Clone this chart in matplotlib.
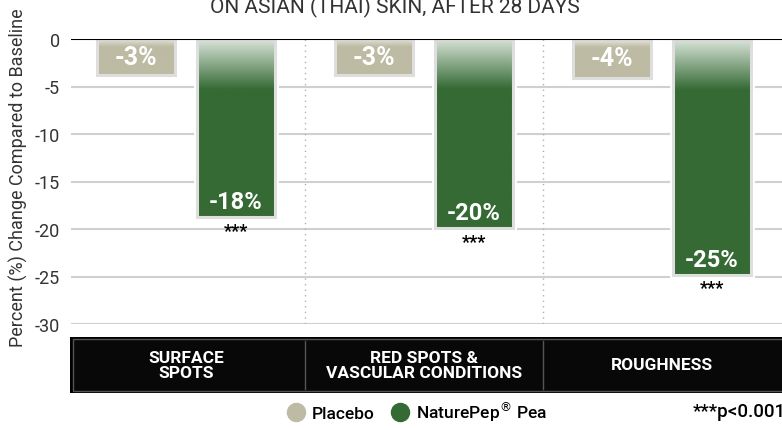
import matplotlib
matplotlib.use("Agg")
import matplotlib.pyplot as plt
import numpy as np
from matplotlib.lines import Line2D
from matplotlib.colors import to_rgb

# data
categories = ["SURFACE\nSPOTS", "RED SPOTS &\nVASCULAR CONDITIONS", "ROUGHNESS"]
placebo = [-3.8, -3.8, -4.1]
pea = [-18.7, -19.9, -24.8]
placebo_labels = ["-3%", "-3%", "-4%"]
pea_labels = ["-18%", "-20%", "-25%"]
y_ticks = [0, -5, -10, -15, -20, -25, -30]

plt.rcParams['font.family'] = ['Roboto', 'DejaVu Sans']

GREEN = "#356a34"
GREEN_TOP = "#d9e4d9"
KHAKI = "#bdbba3"
KHAKI_TOP = "#e9e7dd"


def gradient(top, bottom, depth, value, n=200):
    # vertical gradient from the zero line down to the bar end
    ys = np.linspace(0, value, n)
    t = np.clip(-ys / depth, 0, 1)[:, None]
    c0 = np.array(to_rgb(top))
    c1 = np.array(to_rgb(bottom))
    img = c0 * (1 - t) + c1 * t
    return img[:, None, :]


def draw_bars(ax, xs, vals, width, top, bottom, depth):
    # white gap around bars (cuts the grid lines)
    ax.bar(xs, vals, width, color='none', edgecolor='white', linewidth=5, zorder=2)
    bars = ax.bar(xs, vals, width, color=bottom, zorder=3)
    for b, v in zip(bars, vals):
        x0 = b.get_x()
        im = ax.imshow(gradient(top, bottom, depth, v), extent=[x0, x0 + b.get_width(), v, 0],
                       aspect='auto', origin='upper', zorder=3.1, interpolation='bilinear')
        im.set_clip_path(b)
    ax.bar(xs, vals, width, fill=False, edgecolor='#dedede', linewidth=2.2, zorder=4)
    return bars


fig = plt.figure(figsize=(7.82, 4.31), dpi=100)
ax = fig.add_axes([71 / 782, 1 - 325 / 431, 1 - 71 / 782, 285 / 431])

x = np.arange(len(categories))
off = 0.21
w = 0.33

# grid
for t in y_ticks[1:]:
    ax.axhline(t, color='#d0d0d0', lw=1.5, zorder=1)
for s in [0.5, 1.5]:
    ax.plot([s, s], [0, -30], color='#b0b0b0', lw=1, ls=(0, (1, 3)), zorder=1)

draw_bars(ax, x - off, placebo, w, KHAKI_TOP, KHAKI, 0.9)
draw_bars(ax, x + off, pea, w, GREEN_TOP, GREEN, 5.3)
ax.axhline(0, color='black', lw=1.5, zorder=5)

for i in range(len(categories)):
    ax.text(x[i] - off, placebo[i] / 2, placebo_labels[i], color='white', fontsize=18,
            fontweight='bold', ha='center', va='center', zorder=6)
    ax.annotate(pea_labels[i], (x[i] + off, pea[i]), xytext=(0, 11), textcoords='offset points',
                color='white', fontsize=17, fontweight='bold', ha='center', va='center', zorder=6)
    ax.annotate("***", (x[i] + off, pea[i]), xytext=(0, -10), textcoords='offset points',
                color='black', fontsize=13, fontweight='bold', ha='center', va='center', zorder=6)

ax.set_xlim(-0.483, 2.504)
ax.set_ylim(-30, 0)
ax.set_yticks(y_ticks)
ax.set_yticklabels([str(t) for t in y_ticks])
ax.tick_params(axis='y', length=0, pad=8, labelsize=13, labelcolor='#333333')
ax.set_xticks([])
for sp in ax.spines.values():
    sp.set_visible(False)

# dark category band
band = fig.add_axes([70 / 782, 1 - 394 / 431, 1 - 70 / 782, 56 / 431])
band.set_xlim(-0.487, 2.504)
band.set_ylim(0, 1)
band.axis('off')
band.add_patch(plt.Rectangle((0, 0), 1, 1, transform=band.transAxes, facecolor='black',
                             edgecolor='none'))
band.add_patch(plt.Rectangle((0.004, 0.04), 1.0, 0.92, transform=band.transAxes,
                             facecolor='#080808', edgecolor='#555555', lw=1))
for s in [0.5, 1.5]:
    band.plot([s, s], [0.08, 0.92], color='#555555', lw=1)
for i, c in enumerate(categories):
    band.text(x[i], 0.5, c, color='white', fontsize=12.5, fontweight='bold',
              ha='center', va='center', linespacing=0.95)

fig.text(395 / 782, 1 - 13 / 431, "ON ASIAN (THAI) SKIN, AFTER 28 DAYS", fontsize=15,
         color='#333333', ha='center', va='baseline')
fig.text(18 / 782, 1 - 178 / 431, "Percent (%) Change Compared to Baseline", rotation=90,
         fontsize=13, color='#333333', ha='center', va='center')

handles = [Line2D([], [], marker='o', ls='', markersize=13, color=KHAKI),
           Line2D([], [], marker='o', ls='', markersize=13, color=GREEN)]
fig.legend(handles, ["Placebo", "NaturePep$^{\u00ae}$ Pea"], loc='center',
           bbox_to_anchor=(417 / 782, 1 - 412 / 431), ncol=2, frameon=False,
           prop={'size': 12.5, 'weight': 'medium'}, handlelength=1, handletextpad=0.4,
           columnspacing=1.0)
fig.text(693 / 782, 1 - 412 / 431, "***p<0.001", fontsize=13.5, fontweight='medium',
         color='black', ha='left', va='center')

fig.savefig("out.png", dpi=100)
